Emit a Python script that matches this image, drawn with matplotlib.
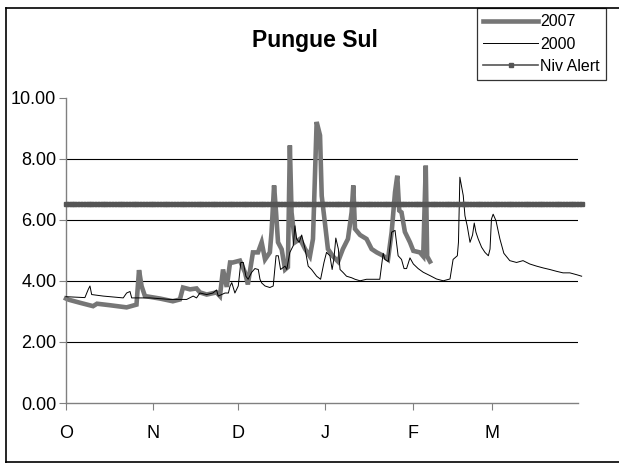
import numpy as np
import matplotlib.pyplot as plt
from matplotlib.lines import Line2D

plt.rcParams['font.family'] = ['Liberation Sans', 'DejaVu Sans']

# x axis: days counted from 1 October
months = ['O', 'N', 'D', 'J', 'F', 'M']
month_start = [0, 31, 61, 92, 123, 151]

day_2007 = [0, 1, 5, 9.6, 11, 15.6, 21.5, 25, 25.9, 26.8, 28, 33.3, 37.9, 40.4,
            41.5, 44, 46.3, 47.5, 49.9, 53.4, 54.6, 55.7, 57, 58.2, 59.2, 61.7,
            63.5, 64.5, 66.3, 68.1, 69.4, 70.6, 72.3, 72.9, 73.8, 74.5, 75.2,
            76.5, 77.7, 78.7, 79.4, 80, 81.2, 83, 84.8, 86.5, 87.6, 88.9, 90.1,
            90.7, 91.8, 92.9, 94.7, 96.5, 98.2, 100, 101.3, 101.9, 102.5, 104.3,
            106.6, 108.4, 110.2, 112.5, 114.2, 115.5, 116.7, 117.5, 118.2, 119,
            120.2, 122, 123.2, 125.5, 126.7, 127.6, 128.1, 129.1]
lvl_2007 = [3.42, 3.38, 3.28, 3.17, 3.25, 3.2, 3.13, 3.22, 4.35, 3.83, 3.5, 3.42,
            3.33, 3.39, 3.78, 3.72, 3.75, 3.62, 3.55, 3.62, 3.5, 4.37, 3.8, 4.6,
            4.6, 4.66, 4.27, 3.88, 4.93, 4.93, 5.26, 4.7, 4.93, 5.59, 7.12, 6.24,
            5.26, 5.03, 4.37, 4.45, 8.43, 6.24, 5.26, 5.37, 5.04, 4.8, 5.37, 9.2,
            8.76, 6.78, 5.92, 5.04, 4.8, 4.63, 5.04, 5.37, 6.24, 7.12, 5.7, 5.5,
            5.37, 5.04, 4.93, 4.82, 4.7, 5.59, 6.9, 7.44, 6.3, 6.24, 5.6, 5.26,
            4.98, 4.93, 4.8, 7.77, 4.8, 4.63]

day_2000 = [0, 6.7, 7.9, 8.5, 9.1, 13.2, 20.3, 21.5, 22.7, 23.3, 29.8, 36.9,
            42.8, 45.1, 46.3, 47.5, 49.9, 52.1, 53.4, 54, 55.2, 56.4, 57.6, 58.2,
            58.8, 59.9, 61.1, 62, 62.9, 63.8, 64.6, 65.8, 67, 68.2, 68.8, 69.4,
            70.6, 72.3, 73.5, 74.5, 75.3, 76.1, 77.7, 78.3, 79.4, 80.6, 81.2,
            81.8, 82.7, 83.6, 84.8, 85.9, 87.1, 88.9, 90.3, 91.5, 92.4, 93.6,
            94.4, 95, 95.7, 96.6, 97.2, 98.3, 99.5, 101.3, 102.5, 104.3, 106.6,
            109, 111.3, 111.9, 112.5, 113.1, 114.3, 115.5, 116.7, 117.8, 119,
            119.9, 120.8, 122, 123.2, 124.9, 126.7, 129.1, 131.4, 133.8, 136.2,
            137.3, 138.8, 139.2, 139.7, 140.9, 141.5, 142.3, 143.3, 144.2, 144.8,
            145.4, 146.2, 147.4, 148.6, 149.8, 150.4, 150.9, 151.5, 152.5, 153.9,
            155.3, 157.4, 159.8, 162.1, 164.5, 166.9, 169.3, 171.6, 174, 176.3,
            178.7, 181.1, 182.9]
lvl_2000 = [3.48, 3.45, 3.72, 3.83, 3.55, 3.5, 3.44, 3.6, 3.65, 3.44, 3.44, 3.39,
            3.39, 3.5, 3.44, 3.6, 3.55, 3.6, 3.7, 3.5, 3.55, 3.6, 3.6, 3.83,
            3.94, 3.6, 3.83, 4.6, 4.6, 4.15, 4.05, 4.27, 4.4, 4.37, 4.05, 3.93,
            3.83, 3.78, 3.83, 4.82, 4.82, 4.37, 4.48, 4.37, 4.93, 5.15, 5.8,
            5.37, 5.26, 5.5, 5.04, 4.48, 4.37, 4.15, 4.05, 4.6, 4.93, 4.82,
            4.37, 4.7, 5.4, 5.04, 4.37, 4.27, 4.15, 4.1, 4.05, 4.0, 4.05,
            4.05, 4.05, 4.48, 4.9, 4.7, 4.63, 5.59, 5.65, 4.82, 4.7,
            4.4, 4.4, 4.75, 4.55, 4.4, 4.28, 4.17, 4.06, 4.0, 4.06,
            4.7, 4.82, 5.26, 7.39, 6.79, 6.13, 5.8, 5.26, 5.5, 5.89,
            5.59, 5.37, 5.1, 4.93, 4.82, 5.04, 6.02, 6.18, 5.97, 5.37,
            4.9, 4.66, 4.6, 4.66, 4.55, 4.48, 4.42, 4.37, 4.31, 4.26,
            4.26, 4.2, 4.15]

alert_level = 6.5
alert_days = np.arange(0, 184)

fig = plt.figure(figsize=(6.19, 4.63), dpi=100)
ax = fig.add_axes([66 / 619, 1 - 403 / 463, 512 / 619, 305.5 / 463])

for y in [2, 4, 6, 8]:
    ax.axhline(y, color='black', lw=0.8, zorder=1)

ax.plot(day_2007, lvl_2007, color='#767676', lw=3.3, label='2007',
        solid_joinstyle='miter', zorder=2, clip_on=False)
ax.plot(day_2000, lvl_2000, color='black', lw=0.7, label='2000', zorder=3,
        clip_on=False)
ax.plot(alert_days, np.full(len(alert_days), alert_level), color='#555555',
        lw=1.2, marker='s', ms=3.2, label='Niv Alert', zorder=4, clip_on=False)

ax.set_xlim(0, 181.6)
ax.set_ylim(0, 10)
ax.set_xticks(month_start)
ax.set_xticklabels(months, fontsize=13)
ax.set_yticks(np.arange(0, 11, 2))
ax.set_yticklabels(['%.2f' % v for v in np.arange(0, 11, 2)], fontsize=13)
ax.tick_params(axis='x', length=5, color='#808080', pad=11)
ax.tick_params(axis='y', length=5, color='#808080', pad=2)

for s in ['top', 'right']:
    ax.spines[s].set_visible(False)
for s in ['left', 'bottom']:
    ax.spines[s].set_color('#808080')
    ax.spines[s].set_linewidth(1.0)

fig.text(315 / 619, 1 - 40 / 463, 'Pungue Sul', fontsize=16.5,
         fontweight='bold', ha='center', va='center')

# outer chart border
fig.add_artist(Line2D([6 / 619, 6 / 619], [0, 1 - 8 / 463], color='black', lw=1.2))
fig.add_artist(Line2D([6 / 619, 1], [1 - 8 / 463, 1 - 8 / 463], color='black', lw=1.2))
fig.add_artist(Line2D([6 / 619, 1], [0.8 / 463, 0.8 / 463], color='black', lw=1.2))

leg = ax.legend(loc='upper left', bbox_to_anchor=(477 / 619, 1 - 8 / 463),
                bbox_transform=fig.transFigure, fontsize=11.5, frameon=True,
                fancybox=False, borderaxespad=0, handlelength=3.4,
                handletextpad=0.15, labelspacing=0.45, borderpad=0.4)
leg.get_frame().set_edgecolor('black')
leg.get_frame().set_linewidth(0.9)

fig.savefig('out.png', dpi=100)
